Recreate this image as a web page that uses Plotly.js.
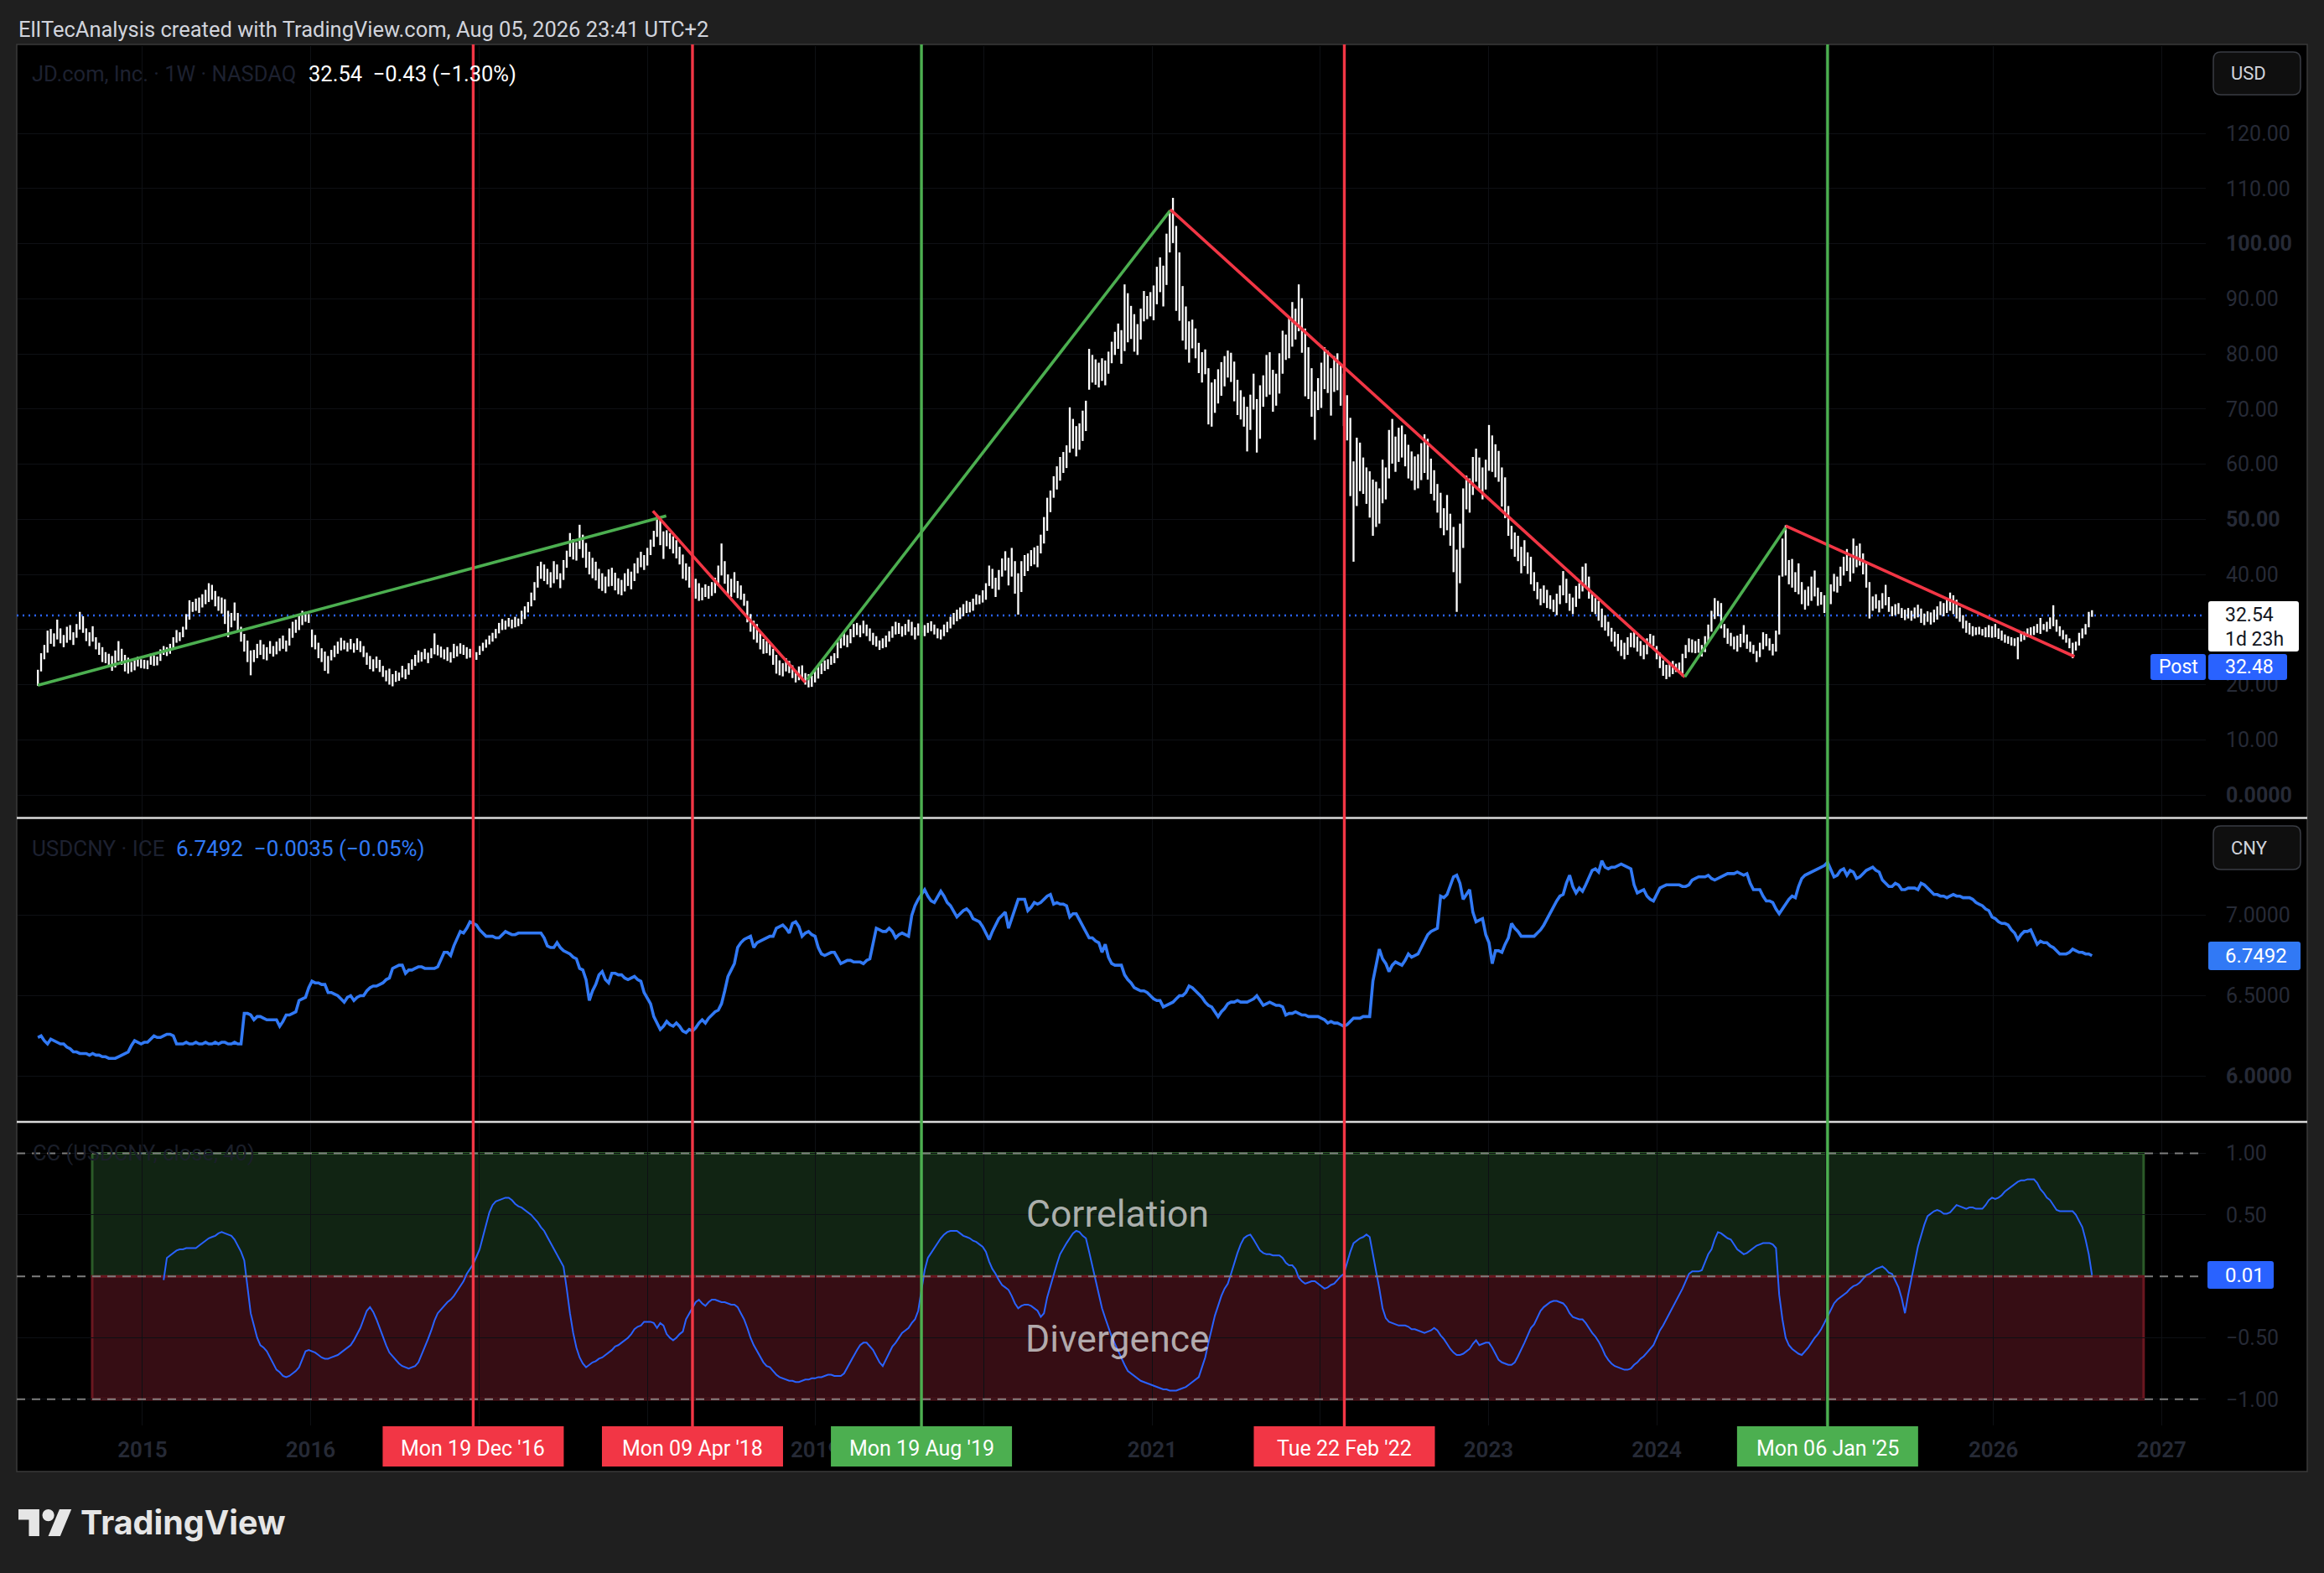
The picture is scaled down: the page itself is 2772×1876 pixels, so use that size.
<!DOCTYPE html>
<html><head><meta charset="utf-8">
<script src="https://cdn.plot.ly/plotly-3.0.1.min.js"></script>
<style>html,body{margin:0;padding:0;background:#1f1f1f;overflow:hidden}#chart{width:2772px;height:1876px}</style>
</head><body><div id="chart"></div>
<script>
// ---------------- DATA ----------------
const firstWeek = '2014-05-19'; // weekly bars, one per Monday
// JD.com weekly highs (2014 .. 2026)
const jdHigh = [
// 2014
22.7,25.7,27.2,29.8,30.1,29.3,31.8,30.2,29.0,30.5,30.8,29.5,31.0,33.2,32.4,30.2,29.5,30.6,28.6,27.6,26.8,25.9,25.6,25.2,26.2,27.9,26.5,25.4,24.9,24.1,24.6,25.1,24.6,
// 2015
24.5,24.4,25.6,25.3, 25.1,26.4,27.0,26.8, 27.4,28.6,29.9,29.5,30.5, 32.8,35.3,35.0,35.6, 35.8,36.4,37.2,38.4, 38.1,37.0,36.0,35.8,35.5, 33.4,33.0,34.9,33.0, 30.5,29.2,28.0,26.2,26.3, 27.4,28.1,27.3,26.8, 27.9,27.0,27.8,28.4, 28.9,28.0,30.2,31.4,31.8, 32.6,33.4,33.2,32.8,
// 2016
30.0,29.0,27.6,26.6, 26.0,25.2,26.3,27.1, 27.8,28.5,28.0,27.6,28.3, 27.5,28.4,27.9,27.0, 25.8,25.2,24.6,25.1,24.5, 23.4,22.6,22.9,21.9, 22.5,22.2,23.4,22.8, 23.9,24.6,25.4,26.2,25.9, 26.5,25.8,26.6,29.3, 27.2,26.9,26.4,26.8,25.9, 27.4,27.0,27.5,27.2, 26.8,26.5,26.4,25.9,
// 2017
27.0,27.6,28.2,28.9,29.4, 30.1,31.2,31.9,31.6, 32.1,31.8,32.3,32.0, 33.4,34.2,35.0,36.7, 38.6,41.5,42.3,41.8,41.0, 40.4,42.4,41.8,40.2, 42.6,44.3,47.5,46.4,45.8, 49.0,47.2,45.7,44.1, 43.0,42.3,41.0,40.2, 39.6,40.9,41.2,40.3,39.3, 39.0,40.2,41.0,40.5, 42.0,43.0,44.1,43.5,
// 2018
44.8,46.3,47.9,50.6,50.2, 47.8,48.0,47.5,46.9, 46.2,45.0,43.6,42.0, 41.4,40.3,39.2,38.4,37.6, 38.2,37.9,38.6,39.4, 41.6,45.6,42.4,40.0, 39.2,40.4,38.8,38.0,36.5, 35.2,32.8,31.6,31.0, 29.4,28.3,27.9,27.4, 26.5,25.4,24.4,23.9,24.8, 24.3,23.5,22.6,23.3, 23.5,22.1,21.9,21.6,22.8,
// 2019
23.4,23.9,24.4,24.6, 25.2,25.7,27.8,29.0, 29.4,29.0,30.1,31.0, 31.2,30.8,31.6,30.9,30.2, 29.4,28.8,28.0,28.4, 28.9,29.7,30.6,31.4, 31.2,30.6,31.0,31.8,31.4, 30.4,31.1,31.3,30.8, 31.2,31.5,30.9,30.2,30.0, 30.9,31.4,32.3,33.0, 33.6,34.0,34.6,35.2, 35.0,35.6,36.4,36.2,37.1,
// 2020
38.4,41.6,41.0,39.4, 40.8,42.9,44.2,43.0, 44.8,42.4,40.2,42.4,43.5, 43.8,44.4,44.9,45.2, 47.2,50.4,53.9,55.2, 57.8,59.6,61.3,62.2,63.4, 70.3,68.2,66.9,67.4, 69.7,71.5,80.9,79.8,79.0, 78.4,79.2,78.8,80.4, 82.2,84.0,85.5,84.3, 92.6,91.0,88.7,87.2,85.4, 88.2,91.4,90.5,91.2,
// 2021
92.4,95.8,97.5,96.0, 101.8,105.6,108.3,103.2, 98.4,92.3,88.6,85.9,86.2, 84.6,82.0,80.3,80.8, 77.4,74.8,75.4,77.2,78.5, 79.6,80.6,80.2,78.6, 75.3,73.4,72.2,70.4, 72.6,76.4,71.8,74.3,76.1, 79.8,80.3,77.1,76.4, 80.1,84.2,83.5,86.6, 89.4,88.2,92.6,90.1,84.6, 81.2,77.4,73.2,75.6,
// 2022
78.4,81.2,80.6,77.4,79.6, 80.1,78.2,76.4,72.5, 68.4,60.5,64.8,63.9, 61.2,59.4,58.7,57.2, 56.8,55.6,60.8,59.4,66.2, 68.2,65.0,66.6,67.0, 65.4,63.5,62.3,61.4, 61.8,63.8,65.4,64.6,61.0, 58.9,56.4,54.8,52.0, 54.4,51.0,48.6,44.5,49.2, 55.6,57.9,57.4,61.3, 62.8,61.2,59.4,60.8,
// 2023
67.1,65.2,63.6,62.4,59.4, 57.6,52.4,48.8,47.6, 47.0,45.0,46.2,44.0, 43.2,40.4,38.6,37.4, 38.0,37.2,36.2,35.4,36.5, 38.0,40.6,39.2,36.5, 35.8,37.9,38.4,41.4,42.0, 39.6,36.8,35.7,35.2, 33.8,32.6,31.4,30.3, 29.6,29.2,28.1,27.6,28.6, 29.4,29.6,28.7,27.9, 27.2,28.4,29.2,28.9,
// 2024
27.0,25.8,24.4,23.6,23.9, 24.3,23.8,24.0,25.6, 27.2,28.4,28.2,27.9, 28.3,27.2,28.8,30.9,33.4, 35.7,35.2,34.8,31.0, 30.2,29.4,28.7,28.9, 29.2,30.8,29.1,27.8,27.2, 26.1,27.6,29.5,29.2, 28.4,27.4,29.8,39.8,46.5, 48.9,42.6,42.8,40.4, 42.0,38.6,37.2,37.8, 39.6,40.7,37.6,36.8,36.2,
// 2025
36.4,38.2,40.1,39.6, 41.4,43.2,44.6,43.1, 46.5,45.2,45.6,43.8,42.1, 38.6,36.0,36.4,35.3, 36.6,38.1,35.9,34.2, 34.6,34.8,33.9,33.6,33.9, 33.4,34.0,34.5,33.8, 32.9,33.3,33.1,33.6, 34.2,35.1,34.8,35.6,36.7, 36.2,35.4,34.0,32.6, 31.6,31.2,30.6,30.4, 30.5,30.1,30.4,30.8,30.6,
// 2026
31.0,30.2,29.8,29.1, 28.8,28.6,28.4,28.6, 29.4,29.6,30.2,30.4,30.6, 31.0,32.1,31.0,31.4, 32.2,34.4,31.8,30.6, 29.9,29.1,28.4,27.6,27.8, 29.4,30.2,31.0,33.2, 33.5
];
// JD.com weekly lows
const jdLow = [
// 2014
19.8,22.4,24.6,25.8,27.4,26.9,28.2,27.5,26.8,27.6,28.1,27.2,28.5,30.0,29.4,27.9,27.0,27.8,26.4,25.4,24.1,23.9,23.4,22.5,23.1,24.3,23.6,22.4,22.0,22.3,22.6,23.3,23.0,
// 2015
22.9,22.8,23.6,23.4, 23.5,24.3,25.4,25.2, 25.6,26.5,27.6,27.9,28.6, 30.0,31.8,33.2,33.4, 33.0,34.0,34.6,35.0, 35.4,34.2,33.4,32.9,31.0, 28.6,30.4,31.6,29.8, 27.8,26.0,24.1,21.7,24.1, 24.8,25.4,24.6,24.4, 25.6,25.1,25.5,26.1, 26.5,26.0,27.1,28.5,29.4, 29.9,30.8,31.4,31.2,
// 2016
26.8,26.4,24.8,24.1, 22.5,22.0,24.4,25.0, 25.6,26.2,26.4,26.0,26.4, 25.8,26.3,25.9,25.0, 23.6,22.8,22.4,23.0,22.3, 21.4,20.6,20.0,19.7, 20.5,20.7,21.3,21.0, 21.8,22.7,23.4,24.0,24.2, 24.6,23.9,24.8,25.5, 25.3,24.9,24.6,24.3,24.0, 24.8,25.1,25.6,25.4, 24.7,24.9,24.6,24.5,
// 2017
25.4,26.1,26.7,27.3,27.8, 28.4,29.3,29.9,30.0, 30.5,30.2,30.4,30.6, 31.0,31.9,33.1,34.2, 35.3,37.6,39.2,38.8,38.2, 37.6,38.4,39.1,37.5, 39.0,41.2,43.2,42.7,42.5, 44.6,43.0,41.2,40.0, 39.3,38.9,37.4,37.0, 36.6,37.8,37.9,37.1,36.4, 36.2,36.9,37.9,37.3, 38.8,40.2,41.3,40.8,
// 2018
41.6,43.5,45.0,46.8,45.3, 42.8,45.1,44.6,43.8, 42.9,41.8,39.2,38.9, 37.6,36.8,35.6,35.2,35.3, 35.9,35.6,36.1,36.6, 37.9,39.8,38.3,36.3, 35.9,36.7,35.7,35.4,34.3, 31.3,29.6,28.2,27.6, 26.4,25.6,25.7,25.3, 23.6,22.0,21.7,21.5,22.4, 22.1,21.2,20.4,20.8, 21.0,20.0,19.5,19.6,20.4,
// 2019
21.1,21.9,22.5,22.8, 23.6,23.9,24.8,26.6, 27.1,26.8,27.5,28.6, 29.0,28.6,29.3,28.8,27.9, 27.2,26.9,26.3,26.6, 26.8,27.8,28.5,29.1, 29.2,28.7,29.0,29.6,28.9, 28.2,28.9,29.4,28.8, 29.4,29.7,29.1,28.4,28.2, 28.8,29.5,30.2,30.9, 31.5,31.9,32.4,33.0, 33.1,33.4,34.5,34.6,34.9,
// 2020
35.4,37.9,37.4,35.9, 37.2,39.6,40.7,38.0, 39.6,36.5,32.7,36.8,39.7, 40.6,41.5,41.8,41.3, 43.8,45.6,47.9,51.3, 53.9,55.4,57.0,58.4,59.3, 62.1,62.8,61.4,62.6, 64.2,66.0,73.5,74.8,74.4, 73.9,75.1,74.3,76.4, 78.3,79.8,80.9,78.2, 80.5,82.1,82.7,80.4,79.8, 82.6,85.9,86.3,86.8,
// 2021
86.1,89.0,91.2,88.6, 92.5,98.4,100.1,87.8, 86.0,82.4,80.8,78.4,81.0, 79.2,76.5,74.8,76.3, 67.2,66.8,69.3,71.0,72.4, 74.1,75.7,74.9,71.4, 68.9,68.1,66.8,62.3, 66.2,69.9,62.1,64.6,70.4, 72.2,72.6,69.5,70.6, 72.8,76.4,78.9,79.2, 81.3,82.6,84.1,80.2,72.3, 71.8,68.6,64.4,69.8,
// 2022
70.2,73.6,72.9,68.8,73.1, 73.4,70.6,66.9,64.3, 54.2,42.3,52.4,55.1, 54.6,52.8,50.3,47.0, 48.6,49.2,52.9,53.6,57.4, 60.1,58.6,60.4,61.2, 59.6,57.4,57.0,55.3, 55.6,57.1,58.4,57.2,54.6, 53.4,51.2,48.4,47.1, 48.0,45.2,40.4,33.2,38.4, 44.8,51.8,51.2,54.4, 56.8,55.1,53.6,55.4,
// 2023
58.8,58.6,57.6,56.8,52.3, 50.2,47.0,44.6,43.2, 42.4,40.2,41.5,40.1, 38.2,37.0,35.5,34.4, 34.8,33.9,33.7,33.2,32.6, 34.6,36.2,34.8,33.4, 32.8,34.1,35.6,36.9,37.8, 35.6,33.2,32.8,31.6, 30.4,29.8,28.8,27.8, 26.9,26.1,25.2,24.6,25.4, 26.8,26.7,26.0,25.2, 24.6,25.5,26.8,27.0,
// 2024
24.6,23.0,21.6,21.0,21.4, 21.9,22.3,22.2,21.5, 24.8,25.9,25.8,25.7, 25.8,25.1,25.9,27.8,29.6, 31.9,32.4,30.2,28.5, 27.4,27.0,26.4,26.0, 26.8,27.6,26.5,25.9,25.6, 24.1,25.0,26.4,27.0, 26.2,25.3,26.0,29.1,39.6, 39.8,38.2,37.6,36.8, 36.4,34.6,33.6,34.3, 35.2,36.0,34.3,34.5,33.0,
// 2025
33.2,34.6,36.9,36.7, 37.9,39.8,40.6,38.7, 40.2,41.3,41.6,40.0,37.6, 32.0,33.4,33.8,33.1, 33.8,34.4,33.2,32.4, 32.6,32.8,32.1,31.7,32.0, 31.6,32.0,32.2,31.2, 30.8,31.4,30.9,31.3, 31.8,32.6,32.4,33.0,33.4, 32.8,32.0,31.4,30.2, 29.4,29.1,28.8,29.0, 29.1,28.9,28.6,28.6,28.5,
// 2026
28.6,28.3,28.0,27.6, 27.4,27.1,27.0,24.6, 27.8,28.1,28.6,28.8,29.0, 29.4,29.2,29.9,29.6, 30.1,30.6,29.6,28.8, 28.2,27.6,26.6,24.8,26.2, 27.1,28.4,29.1,30.4, 32.3
];
// USDCNY weekly close (same weeks)
const usdcny = [
6.24,6.25,6.22,6.20,6.23,6.22,6.21,6.20,6.20,6.18,
6.17,6.15,6.15,6.14,6.14,6.14,6.13,6.14,6.13,6.13,
6.12,6.12,6.11,6.11,6.11,6.12,6.13,6.14,6.15,6.19,
6.22,6.21,6.20,6.21,6.21,6.23,6.25,6.24,6.24,6.25,
6.26,6.26,6.25,6.20,6.20,6.20,6.21,6.20,6.20,6.21,
6.20,6.20,6.21,6.20,6.20,6.21,6.20,6.21,6.21,6.20,
6.20,6.21,6.20,6.20,6.39,6.39,6.38,6.35,6.37,6.37,
6.36,6.35,6.35,6.35,6.35,6.31,6.34,6.38,6.38,6.39,
6.40,6.47,6.48,6.49,6.55,6.59,6.58,6.58,6.57,6.57,
6.52,6.52,6.51,6.50,6.48,6.46,6.49,6.50,6.47,6.49,
6.50,6.50,6.53,6.55,6.56,6.56,6.57,6.58,6.60,6.61,
6.67,6.68,6.69,6.69,6.64,6.66,6.66,6.67,6.68,6.68,
6.67,6.67,6.67,6.67,6.68,6.73,6.77,6.77,6.75,6.81,
6.85,6.90,6.89,6.92,6.96,6.95,6.94,6.91,6.89,6.87,
6.87,6.87,6.86,6.86,6.88,6.90,6.89,6.88,6.88,6.89,
6.89,6.89,6.89,6.89,6.89,6.89,6.89,6.86,6.81,6.80,
6.80,6.83,6.80,6.78,6.77,6.76,6.74,6.73,6.67,6.66,
6.60,6.47,6.53,6.57,6.63,6.65,6.60,6.58,6.64,6.64,
6.63,6.63,6.61,6.60,6.61,6.62,6.60,6.59,6.52,6.48,
6.45,6.37,6.33,6.29,6.31,6.34,6.32,6.31,6.33,6.31,
6.28,6.27,6.29,6.28,6.30,6.33,6.35,6.33,6.36,6.38,
6.40,6.41,6.45,6.53,6.62,6.66,6.70,6.80,6.83,6.85,
6.86,6.87,6.80,6.83,6.84,6.85,6.86,6.87,6.87,6.92,
6.93,6.94,6.92,6.89,6.95,6.96,6.93,6.87,6.89,6.90,
6.88,6.87,6.80,6.76,6.75,6.76,6.77,6.77,6.73,6.70,
6.71,6.72,6.72,6.71,6.71,6.71,6.70,6.72,6.73,6.83,
6.92,6.91,6.90,6.90,6.92,6.90,6.86,6.88,6.89,6.88,
6.87,7.00,7.06,7.10,7.13,7.16,7.12,7.09,7.08,7.12,
7.15,7.12,7.08,7.06,7.02,6.99,7.01,7.03,7.04,7.02,
6.98,6.97,6.96,6.93,6.89,6.85,6.90,6.94,6.98,7.00,
7.02,6.92,6.98,7.04,7.10,7.10,7.10,7.03,7.05,7.08,
7.07,7.08,7.10,7.12,7.13,7.07,7.08,7.07,7.07,7.06,
6.99,7.01,7.01,6.97,6.93,6.89,6.86,6.86,6.84,6.83,
6.77,6.82,6.74,6.70,6.69,6.69,6.69,6.63,6.60,6.58,
6.55,6.54,6.53,6.53,6.52,6.50,6.48,6.47,6.47,6.43,
6.44,6.45,6.46,6.48,6.50,6.50,6.52,6.56,6.55,6.53,
6.51,6.49,6.46,6.44,6.43,6.40,6.37,6.40,6.42,6.45,
6.46,6.46,6.47,6.46,6.46,6.46,6.47,6.48,6.50,6.47,
6.44,6.45,6.46,6.45,6.44,6.44,6.43,6.38,6.39,6.39,
6.40,6.39,6.38,6.38,6.37,6.37,6.37,6.37,6.36,6.35,
6.33,6.34,6.33,6.33,6.32,6.31,6.32,6.34,6.36,6.36,
6.36,6.37,6.37,6.37,6.59,6.70,6.79,6.73,6.70,6.65,
6.69,6.71,6.70,6.69,6.72,6.76,6.74,6.75,6.76,6.80,
6.84,6.88,6.90,6.91,6.92,7.12,7.11,7.13,7.18,7.24,
7.25,7.20,7.10,7.13,7.16,7.02,6.96,6.97,6.98,6.88,
6.83,6.70,6.78,6.78,6.77,6.82,6.86,6.95,6.92,6.90,
6.87,6.87,6.87,6.87,6.87,6.89,6.91,6.94,6.98,7.02,
7.06,7.09,7.12,7.13,7.20,7.25,7.18,7.14,7.17,7.15,
7.19,7.23,7.28,7.29,7.27,7.34,7.30,7.29,7.30,7.30,
7.31,7.32,7.31,7.30,7.29,7.19,7.14,7.15,7.16,7.12,
7.10,7.09,7.13,7.17,7.18,7.19,7.19,7.19,7.19,7.19,
7.18,7.18,7.19,7.22,7.23,7.24,7.24,7.24,7.25,7.23,
7.22,7.23,7.24,7.25,7.26,7.26,7.26,7.27,7.26,7.25,
7.26,7.20,7.16,7.16,7.16,7.12,7.09,7.09,7.08,7.04,
7.01,7.04,7.07,7.10,7.12,7.11,7.18,7.23,7.25,7.26,
7.27,7.28,7.29,7.30,7.31,7.33,7.29,7.24,7.25,7.28,
7.29,7.25,7.28,7.27,7.23,7.24,7.26,7.28,7.29,7.30,
7.28,7.27,7.22,7.20,7.18,7.18,7.20,7.19,7.16,7.16,
7.17,7.17,7.17,7.16,7.20,7.19,7.17,7.15,7.13,7.13,
7.12,7.12,7.11,7.12,7.13,7.12,7.12,7.11,7.11,7.11,
7.10,7.08,7.07,7.06,7.04,7.03,6.99,6.98,6.96,6.95,
6.95,6.94,6.91,6.89,6.85,6.88,6.90,6.90,6.91,6.87,
6.82,6.84,6.83,6.83,6.81,6.80,6.78,6.76,6.76,6.76,
6.77,6.79,6.78,6.77,6.77,6.76,6.76,6.7492
];
// Correlation coefficient CC(USDCNY, close, 40), starts at week index 39
const ccFirstIndex = 39;
const corr = [
-0.03,0.15,0.17,0.19,0.21,0.22,0.22,0.23,0.23,0.23,0.23,
0.25,0.27,0.29,0.31,0.32,0.33,0.35,0.36,0.35,0.34,
0.33,0.30,0.25,0.20,0.13,-0.10,-0.30,-0.40,-0.50,-0.56,
-0.58,-0.61,-0.66,-0.71,-0.76,-0.78,-0.81,-0.82,-0.81,-0.79,
-0.77,-0.74,-0.68,-0.61,-0.60,-0.61,-0.62,-0.64,-0.66,-0.67,
-0.67,-0.66,-0.65,-0.64,-0.62,-0.60,-0.58,-0.56,-0.52,-0.47,
-0.42,-0.35,-0.28,-0.25,-0.29,-0.35,-0.42,-0.50,-0.56,-0.62,
-0.65,-0.68,-0.71,-0.73,-0.74,-0.75,-0.74,-0.73,-0.70,-0.64,
-0.58,-0.51,-0.44,-0.36,-0.30,-0.27,-0.24,-0.21,-0.19,-0.16,
-0.12,-0.08,-0.04,0.02,0.06,0.10,0.16,0.22,0.32,0.43,
0.52,0.58,0.61,0.62,0.63,0.64,0.64,0.62,0.59,0.57,
0.56,0.54,0.52,0.50,0.47,0.44,0.40,0.37,0.32,0.27,
0.23,0.18,0.13,0.08,-0.10,-0.30,-0.46,-0.58,-0.66,-0.71,
-0.74,-0.72,-0.70,-0.69,-0.67,-0.66,-0.64,-0.62,-0.60,-0.57,
-0.56,-0.54,-0.52,-0.50,-0.47,-0.43,-0.41,-0.40,-0.37,-0.37,
-0.37,-0.38,-0.42,-0.38,-0.40,-0.47,-0.50,-0.52,-0.50,-0.47,
-0.45,-0.35,-0.30,-0.25,-0.21,-0.19,-0.22,-0.24,-0.21,-0.19,
-0.19,-0.20,-0.21,-0.21,-0.22,-0.23,-0.23,-0.25,-0.30,-0.35,
-0.42,-0.50,-0.56,-0.61,-0.66,-0.70,-0.73,-0.74,-0.77,-0.80,
-0.82,-0.83,-0.84,-0.85,-0.85,-0.86,-0.86,-0.85,-0.84,-0.84,
-0.83,-0.83,-0.82,-0.82,-0.81,-0.80,-0.80,-0.81,-0.81,-0.81,
-0.79,-0.74,-0.69,-0.65,-0.60,-0.56,-0.54,-0.54,-0.57,-0.60,
-0.65,-0.70,-0.73,-0.68,-0.62,-0.57,-0.54,-0.50,-0.46,-0.44,
-0.42,-0.38,-0.35,-0.28,-0.12,0.05,0.15,0.19,0.23,0.27,
0.31,0.34,0.36,0.37,0.37,0.37,0.35,0.33,0.32,0.31,
0.29,0.28,0.26,0.24,0.20,0.12,0.06,0.02,-0.03,-0.07,
-0.09,-0.11,-0.16,-0.22,-0.26,-0.24,-0.23,-0.23,-0.24,-0.26,
-0.28,-0.33,-0.30,-0.17,-0.08,0.02,0.10,0.18,0.23,0.27,
0.31,0.35,0.37,0.36,0.33,0.31,0.20,0.09,-0.02,-0.14,
-0.26,-0.34,-0.42,-0.49,-0.55,-0.61,-0.67,-0.72,-0.77,-0.79,
-0.81,-0.83,-0.85,-0.86,-0.87,-0.88,-0.89,-0.90,-0.91,-0.92,
-0.92,-0.93,-0.93,-0.93,-0.92,-0.91,-0.90,-0.88,-0.86,-0.84,
-0.82,-0.74,-0.66,-0.54,-0.43,-0.32,-0.24,-0.16,-0.10,-0.06,
0.02,0.11,0.19,0.26,0.31,0.33,0.34,0.30,0.25,0.21,
0.19,0.18,0.18,0.17,0.17,0.17,0.15,0.11,0.09,0.09,
0.06,-0.01,-0.04,-0.06,-0.05,-0.04,-0.04,-0.06,-0.08,-0.10,
-0.09,-0.07,-0.06,-0.03,0.00,0.02,0.11,0.20,0.27,0.29,
0.31,0.32,0.34,0.32,0.18,0.05,-0.10,-0.26,-0.34,-0.37,
-0.38,-0.39,-0.40,-0.40,-0.40,-0.41,-0.43,-0.43,-0.44,-0.45,
-0.46,-0.45,-0.44,-0.42,-0.44,-0.48,-0.51,-0.55,-0.59,-0.62,
-0.64,-0.64,-0.63,-0.61,-0.59,-0.55,-0.52,-0.56,-0.55,-0.54,
-0.54,-0.58,-0.63,-0.68,-0.70,-0.71,-0.72,-0.72,-0.70,-0.65,
-0.60,-0.54,-0.48,-0.42,-0.39,-0.33,-0.28,-0.25,-0.23,-0.21,
-0.20,-0.20,-0.21,-0.22,-0.25,-0.30,-0.33,-0.34,-0.35,-0.35,
-0.38,-0.42,-0.46,-0.49,-0.53,-0.58,-0.64,-0.68,-0.71,-0.73,
-0.74,-0.75,-0.76,-0.76,-0.75,-0.72,-0.70,-0.67,-0.65,-0.62,
-0.59,-0.56,-0.50,-0.44,-0.40,-0.35,-0.30,-0.25,-0.20,-0.16,
-0.10,-0.04,0.02,0.04,0.04,0.04,0.05,0.12,0.18,0.22,
0.30,0.36,0.35,0.33,0.31,0.30,0.26,0.22,0.20,0.18,
0.19,0.21,0.23,0.25,0.26,0.27,0.27,0.27,0.26,0.23,
-0.15,-0.35,-0.50,-0.56,-0.59,-0.61,-0.63,-0.64,-0.61,-0.58,
-0.54,-0.50,-0.47,-0.43,-0.38,-0.33,-0.27,-0.22,-0.19,-0.17,
-0.15,-0.13,-0.10,-0.08,-0.07,-0.05,-0.02,0.01,0.02,0.04,
0.06,0.07,0.08,0.06,0.03,0.02,-0.03,-0.09,-0.18,-0.30,
-0.15,-0.02,0.12,0.24,0.33,0.42,0.49,0.51,0.53,0.54,
0.53,0.51,0.51,0.52,0.55,0.58,0.57,0.56,0.55,0.56,
0.56,0.55,0.55,0.55,0.58,0.62,0.64,0.63,0.64,0.66,
0.69,0.71,0.73,0.75,0.77,0.78,0.78,0.79,0.79,0.79,
0.76,0.71,0.68,0.64,0.62,0.58,0.54,0.53,0.53,0.53,
0.53,0.53,0.50,0.45,0.40,0.30,0.18,0.01
];
// Axis ticks (labels covered by the date badges in the reference are left blank)
const yearTicks = ['2015','2016','2017','2018','2019','2020','2021','2022','2023','2024','2025','2026','2027'];
const yearTickText = ['2015','2016','','','2019','','2021','','2023','2024','','2026','2027'];
const priceTicks = [0,10,20,30,40,50,60,70,80,90,100,110,120];
const priceTickText = ['<b>0.0000</b>','10.00','20.00','','40.00','<b>50.00</b>','60.00','70.00','80.00','90.00','<b>100.00</b>','110.00','120.00'];
const cnyTicks = [6.0,6.5,7.0];
const cnyTickText = ['<b>6.0000</b>','6.5000','7.0000'];
const ccTicks = [-1,-0.5,0.5,1];
const ccTickText = ['\u22121.00','\u22120.50','0.50','1.00'];
// Event markers
const markerDates = ['2016-12-19','2018-04-09','2019-08-19','2022-02-22','2025-01-06'];
const markerLabels = ["Mon 19 Dec '16","Mon 09 Apr '18","Mon 19 Aug '19","Tue 22 Feb '22","Mon 06 Jan '25"];
const markerKinds = ['red','red','green','red','green'];
// Trend lines (date, price) -> (date, price)
const trendFrom = [['2014-05-19',19.9],['2018-01-13',51.5],['2018-12-14',20.9],['2021-02-09',106.2],['2024-03-02',21.4],['2024-10-07',48.8]];
const trendTo   = [['2018-02-11',50.6],['2018-12-10',20.4],['2021-02-09',106.0],['2024-03-02',21.4],['2024-10-07',48.5],['2026-06-26',25.1]];
const trendKind = ['green','red','green','red','green','red'];
const lastPrice = 32.54, postPrice = 32.48, lastCny = 6.7492, lastCc = 0.01;
const zoneStart = '2014-09-14', zoneEnd = '2026-11-23';

// ---------------- LAYOUT HELPERS ----------------
const W = 2772, H = 1876;
const fx = p => p / W, fy = p => 1 - p / H;
const COL = {red:'#f23645', green:'#4caf50'};
const FONT = 'Roboto, "Noto Sans", sans-serif';

function weekDates(n){
  const out = []; const t0 = Date.parse(firstWeek + 'T00:00:00Z');
  for (let i = 0; i < n; i++) out.push(new Date(t0 + i*7*864e5).toISOString().slice(0,10));
  return out;
}
const dates = weekDates(Math.max(jdHigh.length, usdcny.length));
const years = yearTicks.map(y => y + '-01-01');

const bx = [], by = [];
for (let i = 0; i < jdHigh.length; i++){ bx.push(dates[i], dates[i], null); by.push(jdLow[i], jdHigh[i], null); }

const traces = [
  {type:'scatter', mode:'lines', x:bx, y:by, xaxis:'x', yaxis:'y', line:{color:'#ffffff', width:2.3}, hoverinfo:'skip', connectgaps:false},
  {type:'scatter', mode:'lines', x:dates.slice(0, usdcny.length), y:usdcny, xaxis:'x2', yaxis:'y2', line:{color:'#3179f5', width:3.6}, hoverinfo:'skip'},
  {type:'scatter', mode:'lines', x:dates.slice(ccFirstIndex, ccFirstIndex + corr.length), y:corr, xaxis:'x3', yaxis:'y3', line:{color:'#2962ff', width:2}, hoverinfo:'skip'}
];

function rr(x0,y0,x1,y1,r){
  const X=v=>fx(v), Y=v=>fy(v);
  return `M${X(x0+r)},${Y(y0)} L${X(x1-r)},${Y(y0)} Q${X(x1)},${Y(y0)} ${X(x1)},${Y(y0+r)} L${X(x1)},${Y(y1-r)} Q${X(x1)},${Y(y1)} ${X(x1-r)},${Y(y1)} L${X(x0+r)},${Y(y1)} Q${X(x0)},${Y(y1)} ${X(x0)},${Y(y1-r)} L${X(x0)},${Y(y0+r)} Q${X(x0)},${Y(y0)} ${X(x0+r)},${Y(y0)} Z`;
}
function pbox(x0,y0,x1,y1,r,fill,line,lw){
  return {type:'path', xref:'paper', yref:'paper', path:rr(x0,y0,x1,y1,r), fillcolor:fill, line:{color:line||fill, width:lw||0}, layer:'above'};
}
function poly(pts, fill){
  const d = pts.map((p,i)=>(i?'L':'M')+fx(p[0])+','+fy(p[1])).join(' ') + ' Z';
  return {type:'path', xref:'paper', yref:'paper', path:d, fillcolor:fill, line:{width:0}, layer:'above'};
}

const shapes = [];
// chart background
shapes.push({type:'rect', xref:'paper', yref:'paper', x0:fx(20), x1:fx(2752), y0:fy(1755), y1:fy(53), fillcolor:'#000000', line:{color:'#3a3a3a', width:1.5}, layer:'below'});
// last price dotted line
shapes.push({type:'line', xref:'paper', yref:'y', x0:fx(20), x1:fx(2631), y0:lastPrice, y1:lastPrice, line:{color:'#2962ff', width:2.5, dash:'2px,5px'}, layer:'below'});
// correlation / divergence zones
shapes.push({type:'rect', xref:'x3', yref:'y3', x0:zoneStart, x1:zoneEnd, y0:0, y1:1, fillcolor:'#112413', line:{color:'#2b5a28', width:3}, layer:'below'});
shapes.push({type:'rect', xref:'x3', yref:'y3', x0:zoneStart, x1:zoneEnd, y0:-1, y1:0, fillcolor:'#360d14', line:{color:'#6a1720', width:3}, layer:'below'});
[1,0,-1].forEach(v => shapes.push({type:'line', xref:'paper', yref:'y3', x0:fx(20), x1:fx(2626), y0:v, y1:v, line:{color:'#7d7d7d', width:2, dash:'10px,8px'}, layer:'above'}));
// trend lines
for (let i = 0; i < trendFrom.length; i++){
  shapes.push({type:'line', xref:'x', yref:'y', x0:trendFrom[i][0], y0:trendFrom[i][1], x1:trendTo[i][0], y1:trendTo[i][1], line:{color:COL[trendKind[i]], width:3.6}, layer:'above'});
}
// pane separators
[975.5, 1338].forEach(y => shapes.push({type:'line', xref:'paper', yref:'paper', x0:fx(20), x1:fx(2752), y0:fy(y), y1:fy(y), line:{color:'#d9d9d9', width:2.5}, layer:'above'}));
// vertical event lines + date boxes
for (let i = 0; i < markerDates.length; i++){
  shapes.push({type:'line', xref:'x', yref:'paper', x0:markerDates[i], x1:markerDates[i], y0:fy(1701), y1:fy(53), line:{color:COL[markerKinds[i]], width:3.4}, layer:'above'});
  shapes.push({type:'rect', xref:'x', xsizemode:'pixel', xanchor:markerDates[i], x0:-108, x1:108, yref:'paper', y0:fy(1749), y1:fy(1701), fillcolor:COL[markerKinds[i]], line:{width:0}, layer:'above'});
}
// right axis boxes
shapes.push(pbox(2640,62,2744,113,9,'#0f0f0f','#3a3d44',1.5));
shapes.push(pbox(2640,985,2744,1037,9,'#0f0f0f','#3a3d44',1.5));
shapes.push(pbox(2634,717,2742,777,3,'#ffffff'));
shapes.push(pbox(2565,780,2631,811,3,'#2962ff'));
shapes.push(pbox(2634,780,2728,811,3,'#2962ff'));
shapes.push(pbox(2634,1123,2744,1157,3,'#3179f5'));
shapes.push(pbox(2633,1504,2712,1537,3,'#2962ff'));
// TradingView logo
const LX = v => 22 + v*1.78, LY = v => 1800 + (v-4)*1.78;
shapes.push(poly([[LX(14),LY(22)],[LX(7),LY(22)],[LX(7),LY(11)],[LX(0),LY(11)],[LX(0),LY(4)],[LX(14),LY(4)]], '#e6e6e6'));
shapes.push(poly([[LX(28),LY(22)],[LX(20),LY(22)],[LX(27.5),LY(4)],[LX(35.5),LY(4)]], '#e6e6e6'));
shapes.push({type:'circle', xref:'paper', yref:'paper', x0:fx(LX(16)), x1:fx(LX(24)), y0:fy(LY(12)), y1:fy(LY(4)), fillcolor:'#e6e6e6', line:{width:0}, layer:'above'});

function ann(text, x, y, size, color, opts){
  return Object.assign({text, xref:'paper', yref:'paper', x:fx(x), y:fy(y), xanchor:'left', yanchor:'middle', showarrow:false,
    font:{family:FONT, size, color}}, opts||{});
}
const NB = '\u00a0';
const annotations = [
  ann('EllTecAnalysis created with TradingView.com, Aug 05, 2026 23:41 UTC+2', 20, 35, 25.5, '#d1d4dc'),
  ann('JD.com, Inc. · 1W · NASDAQ', 36, 88, 25.5, '#1d2130'),
  ann('32.54'+NB+NB+'\u22120.43 (\u22121.30%)', 366, 88, 25.5, '#ffffff'),
  ann('USDCNY · ICE', 36, 1012, 26, '#1d2130'),
  ann('6.7492'+NB+NB+'\u22120.0035 (\u22120.05%)', 208, 1012, 26, '#3179f5'),
  ann('CC (USDCNY, close, 40)', 37, 1375, 25.5, '#1b1f2a'),
  ann('Correlation', 1333, 1448, 44.5, 'rgba(215,215,215,0.78)', {xanchor:'center'}),
  ann('Divergence', 1333, 1597, 44.5, 'rgba(215,215,215,0.78)', {xanchor:'center'}),
  ann('USD', 2659, 88, 22, '#d1d4dc'),
  ann('CNY', 2659, 1011, 22, '#d1d4dc'),
  ann(String(lastPrice), 2652, 733, 23, '#131722'),
  ann('1d 23h', 2652, 762, 23, '#131722'),
  ann('Post', 2598, 796, 23, '#ffffff', {xanchor:'center'}),
  ann(String(postPrice), 2652, 796, 23, '#ffffff'),
  ann(String(lastCny), 2652, 1140, 24, '#ffffff'),
  ann(String(lastCc), 2652, 1521, 24, '#ffffff'),
  ann('TradingView', 94, 1816, 39.5, '#e6e6e6', {font:{family:'Inter, Roboto, sans-serif', size:39.5, color:'#e6e6e6', weight:700}})
];
for (let i = 0; i < markerDates.length; i++){
  annotations.push({text:markerLabels[i], xref:'x', yref:'paper', x:markerDates[i], y:fy(1727), xanchor:'center', yanchor:'middle', showarrow:false, font:{family:FONT, size:25, color:'#ffffff'}});
}

const xRange = ['2014-04-05','2027-04-07'];
const xBase = {type:'date', range:xRange, domain:[fx(21), fx(2631)], tickvals:years, showgrid:true, gridcolor:'#0e1014', gridwidth:1, zeroline:false, showline:false, fixedrange:true};
const yBase = {side:'right', zeroline:false, showline:false, showgrid:true, gridcolor:'#0e1014', ticks:'outside', ticklen:18, tickcolor:'rgba(0,0,0,0)', tickfont:{family:FONT, size:25, color:'#262a36'}, fixedrange:true};

const layout = {
  width:W, height:H, autosize:false, margin:{l:0,r:0,t:0,b:0},
  paper_bgcolor:'#1f1f1f', plot_bgcolor:'rgba(0,0,0,0)', showlegend:false, hovermode:false,
  font:{family:FONT},
  xaxis: Object.assign({}, xBase, {anchor:'y', showticklabels:false, ticks:''}),
  xaxis2: Object.assign({}, xBase, {anchor:'y2', showticklabels:false, ticks:''}),
  xaxis3: Object.assign({}, xBase, {anchor:'y3', showticklabels:true, ticktext:yearTickText, ticks:'outside', ticklen:6, tickcolor:'rgba(0,0,0,0)', tickfont:{family:FONT, size:26, color:'#262a36', weight:600}}),
  yaxis: Object.assign({}, yBase, {anchor:'x', domain:[fy(974), fy(55)], range:[-3.95, 135.82], tickvals:priceTicks, ticktext:priceTickText}),
  yaxis2: Object.assign({}, yBase, {anchor:'x2', domain:[fy(1338), fy(976)], range:[5.7145, 7.604], tickvals:cnyTicks, ticktext:cnyTickText}),
  yaxis3: Object.assign({}, yBase, {anchor:'x3', domain:[fy(1700), fy(1340)], range:[-1.213, 1.243], tickvals:ccTicks, ticktext:ccTickText}),
  shapes, annotations
};
Plotly.newPlot('chart', traces, layout, {staticPlot:true, displayModeBar:false});
</script>
</body></html>
